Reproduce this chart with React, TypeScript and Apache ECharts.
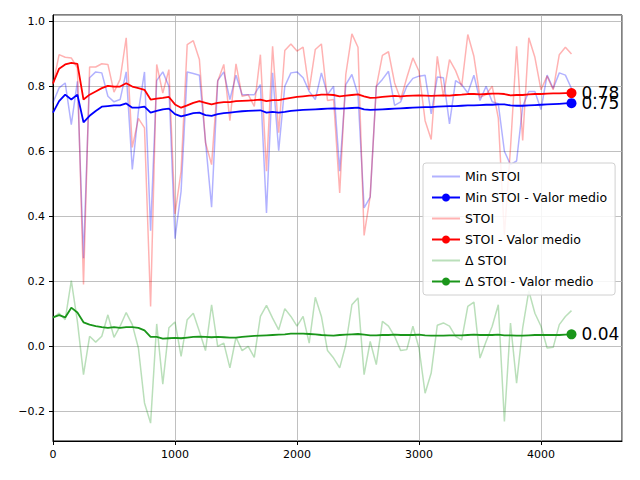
import React, { useEffect, useRef } from "react";
import * as echarts from "echarts";

// x positions: one point every 50 samples
const xStep = 50;

const minStoi = [
  0.75, 0.796, 0.811, 0.683, 0.816, 0.272, 0.827, 0.845, 0.842, 0.77, 0.753, 0.76, 0.845, 0.545, 0.724, 0.845,
  0.357, 0.818, 0.845, 0.801, 0.332, 0.478, 0.845, 0.84, 0.835, 0.632, 0.429, 0.818, 0.845, 0.76, 0.835, 0.775,
  0.775, 0.775, 0.806, 0.411, 0.842, 0.603, 0.801, 0.842, 0.845, 0.827, 0.785, 0.76, 0.842, 0.775, 0.801, 0.54,
  0.806, 0.837, 0.775, 0.427, 0.46, 0.801, 0.822, 0.847, 0.742, 0.753, 0.801, 0.825, 0.832, 0.835, 0.716, 0.829,
  0.827, 0.685, 0.818, 0.806, 0.78, 0.835, 0.757, 0.801, 0.753, 0.747, 0.601, 0.56, 0.571, 0.739, 0.785, 0.785,
  0.729, 0.835, 0.794, 0.842, 0.835, 0.794,
];

const stoi = [
  0.806, 0.898, 0.89, 0.888, 0.857, 0.191, 0.86, 0.86, 0.87, 0.868, 0.783, 0.822, 0.95, 0.613, 0.702, 0.673,
  0.124, 0.868, 0.78, 0.852, 0.408, 0.54, 0.929, 0.941, 0.883, 0.627, 0.56, 0.816, 0.868, 0.695, 0.87, 0.77,
  0.775, 0.739, 0.898, 0.54, 0.924, 0.658, 0.911, 0.931, 0.909, 0.921, 0.79, 0.914, 0.931, 0.757, 0.76, 0.473,
  0.837, 0.962, 0.921, 0.342, 0.463, 0.798, 0.896, 0.907, 0.811, 0.76, 0.827, 0.888, 0.847, 0.695, 0.637, 0.893,
  0.77, 0.883, 0.849, 0.801, 0.96, 0.893, 0.767, 0.775, 0.801, 0.703, 0.344, 0.611, 0.924, 0.634, 0.95, 0.89,
  0.79, 0.832, 0.79, 0.898, 0.921, 0.9,
];

const deltaStoi = [
  0.088, 0.103, 0.083, 0.203, 0.078, -0.086, 0.032, 0.014, 0.032, 0.098, 0.029, 0.063, 0.105, 0.068, -0.004, -0.173,
  -0.235, 0.07, -0.115, 0.058, 0.076, -0.03, 0.083, 0.103, 0.047, -0.012, 0.129, 0.001, 0.011, -0.065, 0.029, -0.012,
  0.001, -0.033, 0.093, 0.127, 0.088, 0.052, 0.117, 0.093, 0.063, 0.093, 0.011, 0.152, 0.093, -0.012, -0.035, -0.065,
  0.006, 0.129, 0.15, -0.086, 0.016, -0.055, 0.078, 0.063, 0.032, -0.012, -0.009, 0.063, -0.004, -0.143, -0.081, 0.066,
  0.073, 0.063, 0.032, 0.021, 0.124, 0.137, -0.035, 0.016, 0.063, 0.129, -0.23, 0.073, -0.112, 0.058, 0.172, 0.103,
  0.063, -0.004, -0.002, 0.068, 0.093, 0.111,
];

const minStoiMean = [
  0.72, 0.755, 0.775, 0.76, 0.775, 0.69, 0.71, 0.725, 0.738, 0.74, 0.742, 0.742, 0.748, 0.735, 0.735, 0.738,
  0.72, 0.725, 0.73, 0.732, 0.715, 0.708, 0.713, 0.718, 0.72, 0.712, 0.71, 0.715, 0.718, 0.72, 0.722, 0.724,
  0.725, 0.726, 0.727, 0.72, 0.722, 0.72, 0.722, 0.725, 0.727, 0.728, 0.729, 0.73, 0.731, 0.732, 0.733, 0.732,
  0.733, 0.734, 0.735, 0.73, 0.728, 0.729, 0.73, 0.731, 0.732, 0.733, 0.734, 0.735, 0.736, 0.737, 0.737, 0.738,
  0.739, 0.74, 0.74, 0.741, 0.742, 0.742, 0.743, 0.744, 0.744, 0.745, 0.745, 0.742, 0.741, 0.741, 0.742, 0.743,
  0.744, 0.745, 0.746, 0.747, 0.748, 0.749,
];

const stoiMean = [
  0.81, 0.855, 0.868, 0.873, 0.87, 0.76, 0.775, 0.785, 0.795, 0.802, 0.8, 0.8, 0.81, 0.8, 0.795, 0.79,
  0.76, 0.763, 0.765, 0.768, 0.745, 0.735, 0.742, 0.75, 0.755, 0.75, 0.745, 0.75, 0.752, 0.752, 0.755, 0.756,
  0.757, 0.758, 0.76, 0.755, 0.758, 0.758, 0.762, 0.765, 0.768, 0.77, 0.772, 0.773, 0.775, 0.775, 0.774, 0.77,
  0.772, 0.774, 0.776, 0.77, 0.765, 0.766, 0.768, 0.77, 0.771, 0.77, 0.771, 0.772, 0.773, 0.772, 0.771, 0.772,
  0.773, 0.772, 0.774, 0.775, 0.777, 0.777, 0.776, 0.777, 0.778, 0.778, 0.777, 0.773, 0.774, 0.774, 0.776, 0.777,
  0.777, 0.778, 0.779, 0.779, 0.78, 0.78,
];

const deltaMean = [
  0.09, 0.097, 0.09, 0.12, 0.105, 0.075, 0.068, 0.063, 0.06, 0.058, 0.06, 0.058, 0.06, 0.06, 0.058, 0.05,
  0.03, 0.03, 0.025, 0.026, 0.027, 0.026, 0.028, 0.03, 0.031, 0.03, 0.029, 0.03, 0.029, 0.028, 0.028, 0.03,
  0.032, 0.033, 0.034, 0.035, 0.036, 0.037, 0.038, 0.04, 0.04, 0.04, 0.039, 0.038, 0.036, 0.035, 0.034, 0.036,
  0.037, 0.038, 0.039, 0.037, 0.035, 0.035, 0.036, 0.036, 0.037, 0.036, 0.036, 0.036, 0.037, 0.035, 0.034, 0.034,
  0.034, 0.035, 0.035, 0.035, 0.036, 0.037, 0.036, 0.036, 0.036, 0.037, 0.035, 0.035, 0.034, 0.034, 0.035, 0.036,
  0.036, 0.036, 0.036, 0.036, 0.037, 0.038,
];

const xTicks = [0, 1000, 2000, 3000, 4000];

const BLUE = "#0000ff";
const RED = "#ff0000";
const GREEN = "#1a961a";
const FONT = "DejaVu Sans";
const LINE_ICON = "path://M0,0L28,0L28,2L0,2Z";

const pts = (ys: number[]) => ys.map((v, i) => [i * xStep, v]);

const App = () => {
  const chartRef = useRef<HTMLDivElement>(null);

  useEffect(() => {
    const chart = echarts.init(chartRef.current, null, { renderer: "svg" });

    const raw = (name: string, color: string, ys: number[]) => ({
      name,
      type: "line",
      data: pts(ys),
      symbol: "none",
      lineStyle: { color, width: 1.5, opacity: 0.3 },
      itemStyle: { color, opacity: 0.3 },
      z: 2,
    });
    const mean = (name: string, color: string, ys: number[]) => ({
      name,
      type: "line",
      data: pts(ys),
      symbol: "circle",
      symbolSize: 9,
      showSymbol: false,
      lineStyle: { color, width: 1.8 },
      itemStyle: { color },
      z: 3,
    });
    const endMark = (color: string, ys: number[], text: string) => ({
      type: "scatter",
      data: [[(ys.length - 1) * xStep, ys[ys.length - 1]]],
      symbolSize: 10,
      itemStyle: { color, opacity: 1 },
      label: {
        show: true,
        position: "right",
        distance: 5,
        formatter: text,
        fontFamily: FONT,
        fontSize: 17,
        color: "#000",
      },
      z: 4,
    });

    const option = {
      animation: false,
      backgroundColor: "#fff",
      textStyle: { fontFamily: FONT },
      grid: {
        left: 53,
        right: 18,
        top: 15,
        bottom: 39,
        show: true,
        borderColor: "#000",
        borderWidth: 1,
        backgroundColor: "transparent",
      },
      legend: {
        orient: "vertical",
        left: 423,
        top: 163,
        data: [
          { name: "Min STOI", icon: LINE_ICON },
          { name: "Min STOI - Valor medio" },
          { name: "STOI", icon: LINE_ICON },
          { name: "STOI - Valor medio" },
          { name: "Δ STOI", icon: LINE_ICON },
          { name: "Δ STOI - Valor medio" },
        ],
        itemWidth: 28,
        itemHeight: 10,
        itemGap: 8,
        padding: [7, 8, 7, 8],
        backgroundColor: "rgba(255,255,255,0.85)",
        borderColor: "#d0d0d0",
        borderWidth: 1,
        borderRadius: 3,
        textStyle: { fontFamily: FONT, fontSize: 12.5, color: "#000" },
      },
      xAxis: {
        type: "value",
        min: 0,
        max: 4664,
        interval: 1000,
        axisLine: { onZero: false, lineStyle: { color: "#000" } },
        axisTick: { show: true, length: 4, lineStyle: { color: "#000" } },
        axisLabel: {
          color: "#000",
          fontSize: 11,
          fontFamily: FONT,
          showMaxLabel: false,
          formatter: (v: number) => (xTicks.includes(v) ? String(v) : ""),
        },
        splitLine: { show: true, lineStyle: { color: "#b0b0b0", width: 0.8 } },
      },
      yAxis: {
        type: "value",
        min: -0.29,
        max: 1.02,
        splitNumber: 6,
        axisLine: { show: true, onZero: false, lineStyle: { color: "#000" } },
        axisTick: { show: true, length: 4, lineStyle: { color: "#000" } },
        axisLabel: {
          color: "#000",
          fontSize: 11,
          fontFamily: FONT,
          showMinLabel: false,
          showMaxLabel: false,
          formatter: (v: number) => (v < 0 ? "−" + Math.abs(v).toFixed(1) : v.toFixed(1)),
        },
        splitLine: { show: true, lineStyle: { color: "#b0b0b0", width: 0.8 } },
      },
      series: [
        raw("Min STOI", BLUE, minStoi),
        mean("Min STOI - Valor medio", BLUE, minStoiMean),
        raw("STOI", RED, stoi),
        mean("STOI - Valor medio", RED, stoiMean),
        raw("Δ STOI", GREEN, deltaStoi),
        mean("Δ STOI - Valor medio", GREEN, deltaMean),
        endMark(RED, stoiMean, "0.78"),
        endMark(BLUE, minStoiMean, "0.75"),
        endMark(GREEN, deltaMean, "0.04"),
      ],
    };

    chart.setOption(option);
    return () => chart.dispose();
  }, []);

  return <div ref={chartRef} style={{ width: 640, height: 480, margin: -8 }} />;
};

export default App;
